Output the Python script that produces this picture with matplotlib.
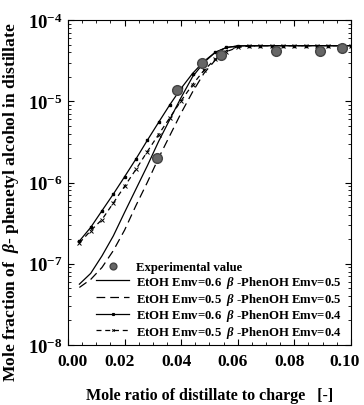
import numpy as np
import matplotlib
matplotlib.use("Agg")
import matplotlib.pyplot as plt
from matplotlib.ticker import FixedLocator, LogLocator, NullFormatter, MultipleLocator
from matplotlib.transforms import ScaledTranslation

plt.rcParams['font.family'] = ['Liberation Serif', 'DejaVu Serif']
plt.rcParams['font.weight'] = 'bold'
plt.rcParams['mathtext.fontset'] = 'custom'
plt.rcParams['mathtext.rm'] = 'Liberation Serif:bold'
plt.rcParams['mathtext.bf'] = 'Liberation Serif:bold'
plt.rcParams['mathtext.it'] = 'Liberation Serif:italic'

# experimental points
x_exp = [0.0313, 0.0384, 0.0475, 0.0540, 0.0736, 0.0889, 0.0968]
y_exp = [2.0e-6, 1.38e-5, 2.96e-5, 3.7e-5, 4.2e-5, 4.2e-5, 4.5e-5]

# simulated curves
x_sim = [0.004, 0.008, 0.012, 0.016, 0.020, 0.024, 0.028, 0.032, 0.036, 0.040,
         0.044, 0.048, 0.052, 0.056, 0.060, 0.064, 0.068, 0.072, 0.076, 0.080,
         0.084, 0.088, 0.092, 0.096, 0.100]
# EtOH 0.6 / PhenOH 0.5
y_a = [5.6e-8, 7.6e-8, 1.25e-7, 2.2e-7, 4.3e-7, 8.3e-7, 1.6e-6, 3.2e-6, 6.0e-6, 1.12e-5,
       2.0e-5, 3.0e-5, 4.0e-5, 4.6e-5, 4.8e-5, 4.85e-5, 4.85e-5, 4.85e-5, 4.85e-5, 4.85e-5,
       4.85e-5, 4.85e-5, 4.85e-5, 4.85e-5, 4.85e-5]
# EtOH 0.5 / PhenOH 0.5
y_b = [5.1e-8, 6.4e-8, 9.0e-8, 1.45e-7, 2.6e-7, 5.2e-7, 1.0e-6, 2.0e-6, 3.8e-6, 7.2e-6,
       1.3e-5, 2.2e-5, 3.2e-5, 4.2e-5, 4.7e-5, 4.8e-5, 4.85e-5, 4.85e-5, 4.85e-5, 4.85e-5,
       4.85e-5, 4.85e-5, 4.85e-5, 4.85e-5, 4.85e-5]
# EtOH 0.6 / PhenOH 0.4
y_c = [1.9e-7, 2.8e-7, 4.5e-7, 7.2e-7, 1.18e-6, 1.95e-6, 3.3e-6, 5.5e-6, 9.1e-6, 1.45e-5,
       2.2e-5, 3.1e-5, 4.0e-5, 4.6e-5, 4.8e-5, 4.85e-5, 4.85e-5, 4.85e-5, 4.85e-5, 4.85e-5,
       4.85e-5, 4.85e-5, 4.85e-5, 4.85e-5, 4.85e-5]
# EtOH 0.5 / PhenOH 0.4
y_d = [1.8e-7, 2.55e-7, 3.5e-7, 5.6e-7, 9.0e-7, 1.45e-6, 2.4e-6, 3.9e-6, 6.3e-6, 1.02e-5,
       1.6e-5, 2.4e-5, 3.3e-5, 4.1e-5, 4.6e-5, 4.8e-5, 4.85e-5, 4.85e-5, 4.85e-5, 4.85e-5,
       4.85e-5, 4.85e-5, 4.85e-5, 4.85e-5, 4.85e-5]

labels = ['Experimental value',
          r'EtOH Emv=0.6  $\it{\beta}$ -PhenOH Emv=0.5',
          r'EtOH Emv=0.5  $\it{\beta}$ -PhenOH Emv=0.5',
          r'EtOH Emv=0.6  $\it{\beta}$ -PhenOH Emv=0.4',
          r'EtOH Emv=0.5  $\it{\beta}$ -PhenOH Emv=0.4']

xticks = [0.00, 0.02, 0.04, 0.06, 0.08, 0.10]
yticks = [1e-8, 1e-7, 1e-6, 1e-5, 1e-4]
ytick_labels = [r'$10^{-8}$', r'$10^{-7}$', r'$10^{-6}$', r'$10^{-5}$', r'$10^{-4}$']

fig = plt.figure(figsize=(3.64, 4.06), dpi=100)
ax = fig.add_axes([0.187, 0.148, 0.777, 0.800])

ax.plot(x_exp, y_exp, 'o', color='#666666', mec='#444444', ms=7, zorder=5, label=labels[0])
ax.plot(x_sim, y_a, '-', color='black', lw=0.9, label=labels[1])
ax.plot(x_sim, y_b, '--', color='black', lw=0.9, dashes=(7, 4), label=labels[2])
ax.plot(x_sim, y_c, '-', color='black', lw=0.9, marker='s', ms=1.8, label=labels[3])
ax.plot(x_sim, y_d, '--', color='black', lw=0.9, dashes=(4, 3), marker='x', ms=2.4, mew=0.7,
        label=labels[4])

ax.set_yscale('log')
ax.set_xlim(0, 0.1)
ax.set_ylim(1e-8, 1e-4)

ax.xaxis.set_major_locator(FixedLocator(xticks))
ax.set_xticklabels(['%.2f' % t for t in xticks], fontsize=12.5, fontweight='bold')
ax.xaxis.set_minor_locator(MultipleLocator(0.005))
ax.yaxis.set_major_locator(FixedLocator(yticks))
ax.set_yticklabels(ytick_labels, fontsize=13.5)
ax.yaxis.set_minor_locator(LogLocator(base=10, subs=np.arange(2, 10)))
ax.yaxis.set_minor_formatter(NullFormatter())

ax.tick_params(which='both', direction='in', top=True, right=True)
ax.tick_params(which='major', length=4, width=0.8)
ax.tick_params(which='minor', length=2, width=0.6)
ax.tick_params(axis='x', pad=6)
ax.tick_params(axis='y', pad=4)

# the original tick labels sit a little off their ticks
label_shift = [4, -5, -5, -5, -5, -6]
for lab, dx in zip(ax.get_xticklabels(), label_shift):
    lab.set_transform(lab.get_transform() + ScaledTranslation(dx / 100.0, 0, fig.dpi_scale_trans))

ax.set_xlabel('Mole ratio of distillate to charge   [-]', fontsize=11.5, fontweight='bold', labelpad=13)
ax.set_ylabel(r'Mole fraction of  $\it{\beta}$- phenetyl alcohol in distillate', fontsize=12.6,
              fontweight='bold')
ax.yaxis.set_label_coords(-0.165, 0.443)

leg = ax.legend(loc='lower right', bbox_to_anchor=(0.985, 0.0), frameon=False, fontsize=9.2,
                handlelength=2.6, handletextpad=0.5, labelspacing=0.05, borderaxespad=0.0,
                markerscale=0.7)

fig.savefig('out.png', dpi=100)
